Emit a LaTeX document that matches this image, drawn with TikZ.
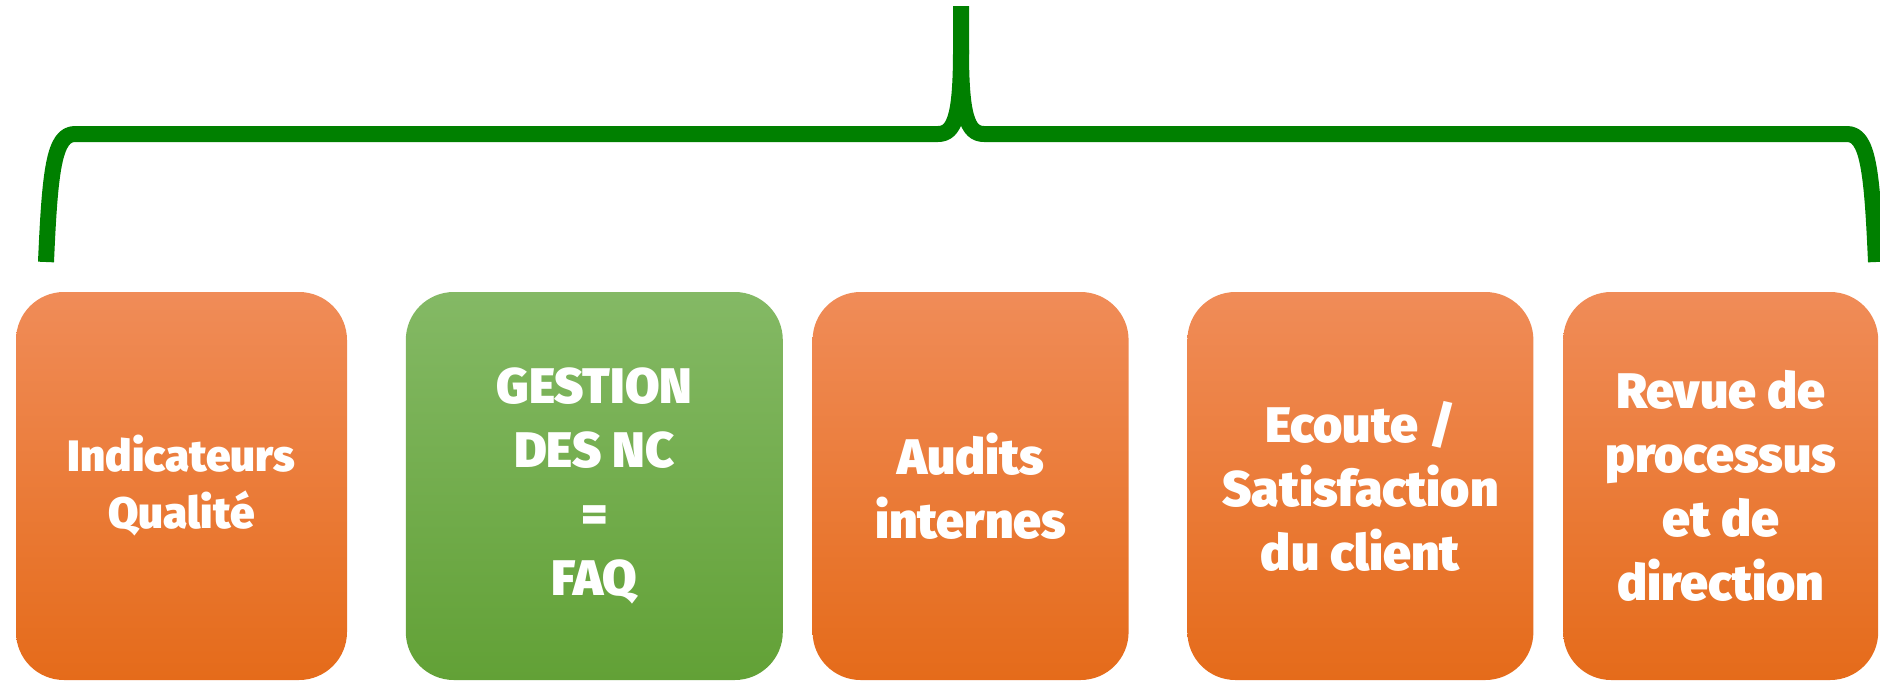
\documentclass[tikz,border=0pt]{standalone}
\usepackage{fontspec}
\setmainfont{Fira Sans}[BoldFont={Fira Sans Black}]
\usetikzlibrary{positioning}

\definecolor{braceGreen}{HTML}{008000}
\definecolor{orangeTop}{HTML}{F08C58}
\definecolor{orangeMid}{HTML}{F47D30}
\definecolor{orangeBot}{HTML}{E56B1A}
\definecolor{greenTop}{HTML}{84B965}
\definecolor{greenMid}{HTML}{71B144}
\definecolor{greenBot}{HTML}{62A136}

\begin{document}
\begin{tikzpicture}[
    x=0.5pt, y=-0.5pt,
    node distance=29pt,
    card/.style={rectangle, rounded corners=24pt, minimum height=194pt, align=center, text=white,
        font=\bfseries\fontsize{25}{32}\selectfont, inner sep=2pt},
    orangecard/.style={card, top color=orangeTop, middle color=orangeMid, bottom color=orangeBot},
    greencard/.style={card, top color=greenTop, middle color=greenMid, bottom color=greenBot},
    brace/.style={draw=braceGreen, line width=8pt, line join=round}
]
\useasboundingbox (0,0) rectangle (1880,681);

% Nodes
\node (indic) [orangecard, minimum width=165.5pt, font=\bfseries\fontsize{22}{28.5}\selectfont] at (181.5,486) {Indicateurs\\Qualité};
\node (gestion) [greencard, minimum width=188.5pt, right=of indic] {GESTION\\DES NC\\=\\FAQ};
\node (audits) [orangecard, minimum width=158pt, right=14.5pt of gestion] {Audits\\internes};
\node (ecoute) [orangecard, minimum width=173pt, right=of audits] {Ecoute /\\Satisfaction\\du client};
\node (revue) [orangecard, minimum width=157.5pt, right=14.5pt of ecoute] {Revue de\\processus\\et de\\direction};

% Brace
\coordinate (top) at (961,6);
\coordinate (cusp) at (961,50);
\coordinate (legL) at (46,262);
\coordinate (legR) at (1876,262);

\draw [brace] (legL) .. controls (50,170) and (54,134) .. (75,134) -- (938,134)
    .. controls (955,134) and (961,115) .. (cusp) -- (top);
\draw [brace] (legR) .. controls (1872,170) and (1868,134) .. (1847,134) -- (984,134)
    .. controls (967,134) and (961,115) .. (cusp);

\end{tikzpicture}
\end{document}
